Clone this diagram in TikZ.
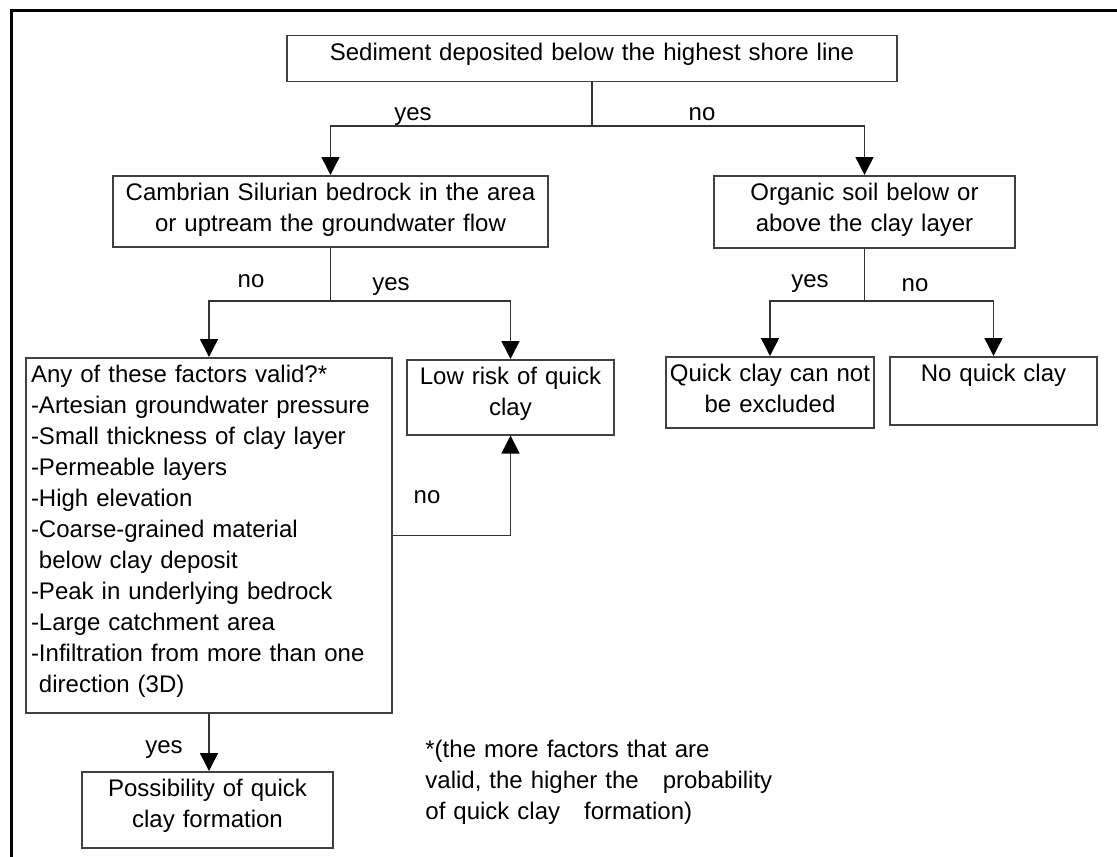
\documentclass[tikz,border=0pt]{standalone}
\usepackage{fontspec}
\setmainfont{Liberation Sans}
\usetikzlibrary{arrows.meta}

\begin{document}
\begin{tikzpicture}[x=0.5pt,y=-0.5pt,
                every node/.style={font=\fontsize{12}{15.5}\selectfont},
                box/.style={draw=black!75, line width=0.75pt, rectangle, anchor=north,
                            align=center, inner xsep=2pt, inner ysep=4pt, text height=8.5pt},
                lbl/.style={anchor=base, inner sep=0pt},
                link/.style={draw=black!80, line width=0.75pt},
                arr/.style={link, -{Triangle[width=9pt,length=9pt,color=black]}},]
    \useasboundingbox (0,0) rectangle (1117,856);
    \draw[line width=1.5pt] (11,11) rectangle (1130,870);

    \node[box, text width=301pt, text depth=6.5pt] (sed) at (592,35)
        {Sediment deposited below the highest shore line};
    \node[box, text width=213.5pt, text depth=19pt] (camb) at (330.5,175)
        {Cambrian Silurian bedrock in the area\\or uptream the groundwater flow};
    \node[box, text width=146.5pt, text depth=19.5pt] (org) at (864.5,175)
        {Organic soil below or\\above the clay layer};
    \node[box, align=left, text width=178pt, inner xsep=2.5pt, text depth=161pt] (fact) at (209,357)
        {Any of these factors valid?*\\
         -Artesian groundwater pressure\\
         -Small thickness of clay layer\\
         -Permeable layers\\
         -High elevation\\
         -Coarse-grained material\\
         \ below clay deposit\\
         -Peak in underlying bedrock\\
         -Large catchment area\\
         -Infiltration from more than one\\
         \ direction (3D)};
    \node[box, text width=99.5pt, text depth=21pt] (low) at (510.5,359)
        {Low risk of quick\\clay};
    \node[box, text width=104pt, inner xsep=0pt, text depth=19pt] (qc) at (770,356)
        {Quick clay can not\\be excluded};
    \node[box, text width=99.5pt, text depth=17.5pt] (noqc) at (993.5,356)
        {No quick clay};
    \node[box, text width=121.5pt, text depth=21.5pt] (poss) at (207.5,771)
        {Possibility of quick\\clay formation};
    \node[anchor=base west, align=left, text width=200pt, inner sep=0pt] (note) at (425,757)
        {*(the more factors that are\\
         valid, the higher the\ \ \ probability\\
         of quick clay\ \ \ formation)};

    \node[lbl] (y1) at (413,120) {yes};
    \node[lbl] (n1) at (702,120) {no};
    \node[lbl] (n2) at (251,287) {no};
    \node[lbl] (y2) at (391,290) {yes};
    \node[lbl] (y3) at (810,287) {yes};
    \node[lbl] (n3) at (915,291) {no};
    \node[lbl] (n4) at (427,503) {no};
    \node[lbl] (y4) at (164,753) {yes};

    \coordinate (j1) at (sed.south |- 0,126);
    \coordinate (j2) at (camb.south |- 0,301);
    \coordinate (j3) at (org.south |- 0,301);
    \draw[link] (sed.south) -- (j1);
    \draw[arr] (j1) -| (camb.north);
    \draw[arr] (j1) -| (org.north);
    \draw[link] (camb.south) -- (j2);
    \draw[arr] (j2) -| (fact.north);
    \draw[arr] (j2) -| (low.north);
    \draw[link] (org.south) -- (j3);
    \draw[arr] (j3) -| (qc.north);
    \draw[arr] (j3) -| (noqc.north);
    \draw[arr] (fact.east) -| (low.south);
    \draw[arr] (fact.south) -- (fact.south |- poss.north);
\end{tikzpicture}
\end{document}
